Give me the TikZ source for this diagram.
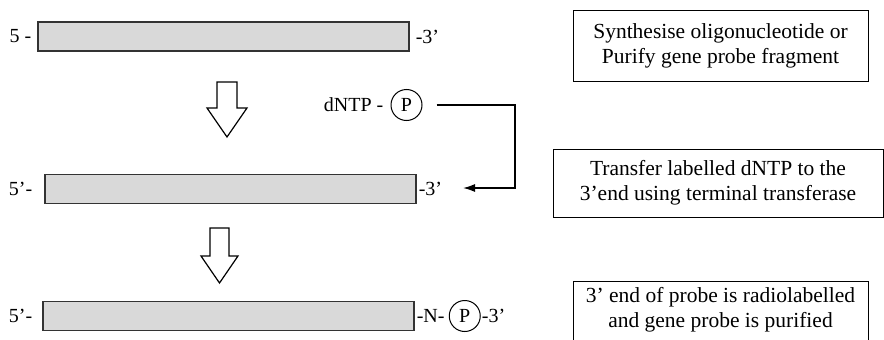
\documentclass[tikz,border=0pt]{standalone}
\usepackage{fontspec}
\setmainfont{Liberation Serif}
\usepackage{tikz}
\usetikzlibrary{positioning,arrows.meta}

\definecolor{strandgray}{HTML}{D9D9D9}
\definecolor{edgegray}{HTML}{333333}

\begin{document}
\begin{tikzpicture}[x=1pt, y=-1pt,
	strand/.style={draw=edgegray, line width=1.2pt, fill=strandgray, minimum width=371pt, minimum height=29pt, inner sep=0pt},
	endlbl/.style={inner sep=0pt, font=\fontsize{20}{23}\selectfont},
	phos/.style={draw, line width=1pt, circle, minimum size=31pt, inner sep=0pt, font=\fontsize{20}{23}\selectfont},
	stepbox/.style={draw, line width=1pt, align=center, inner sep=0pt, font=\fontsize{21.5}{25}\selectfont},
	blockarrow/.style={draw, line width=1.2pt, fill=white}]
	\useasboundingbox (0,0) rectangle (884,340);

	% strands
	\node[strand] (sone) at (223.5,36.5) {};
	\node[strand] (stwo) at (230.5,189) {};
	\node[strand] (sthree) at (228.5,316) {};

	\node[endlbl, left=6pt of sone] {5 -};
	\node[endlbl, right=6pt of sone] {-3’};
	\node[endlbl, left=12pt of stwo] {5’-};
	\node[endlbl, right=2pt of stwo] (twoend) {-3’};
	\node[endlbl, left=10pt of sthree] {5’-};
	\node[endlbl, right=2pt of sthree] (nlink) {-N-};
	\node[phos, right=4pt of nlink] (ptwo) {P};
	\node[endlbl, right=1pt of ptwo] {-3’};

	% labelled dNTP
	\node[phos] (pone) at (406.5,105) {P};
	\node[endlbl, left=7pt of pone] {dNTP -};
	\coordinate (tip) at (463,188);
	\draw[line width=1.5pt, -{Latex[length=12pt, width=8pt]}] ([xshift=14pt]pone.east) -| (515,188) -- (tip);

	% block arrows
	\draw[blockarrow] (217,82) -- (237,82) -- (237,108) -- (247,108) -- (227,137) -- (207,108) -- (217,108) -- cycle;
	\draw[blockarrow] (210,228) -- (229,228) -- (229,256) -- (238,256) -- (219.5,283) -- (201,256) -- (210,256) -- cycle;

	% steps
	\node[stepbox, minimum width=295pt, minimum height=71pt] (stepone) at (720.5,45.5) {Synthesise oligonucleotide or\\Purify gene probe fragment};
	\node[stepbox, minimum width=330pt, minimum height=68pt] (steptwo) at (718,183) {Transfer labelled dNTP to the\\3’end using terminal transferase};
	\node[stepbox, minimum width=295pt, anchor=north, text depth=30pt, inner ysep=6pt] (stepthree) at (720.5,281) {3’ end of probe is radiolabelled\\and gene probe is purified};

\end{tikzpicture}
\end{document}
